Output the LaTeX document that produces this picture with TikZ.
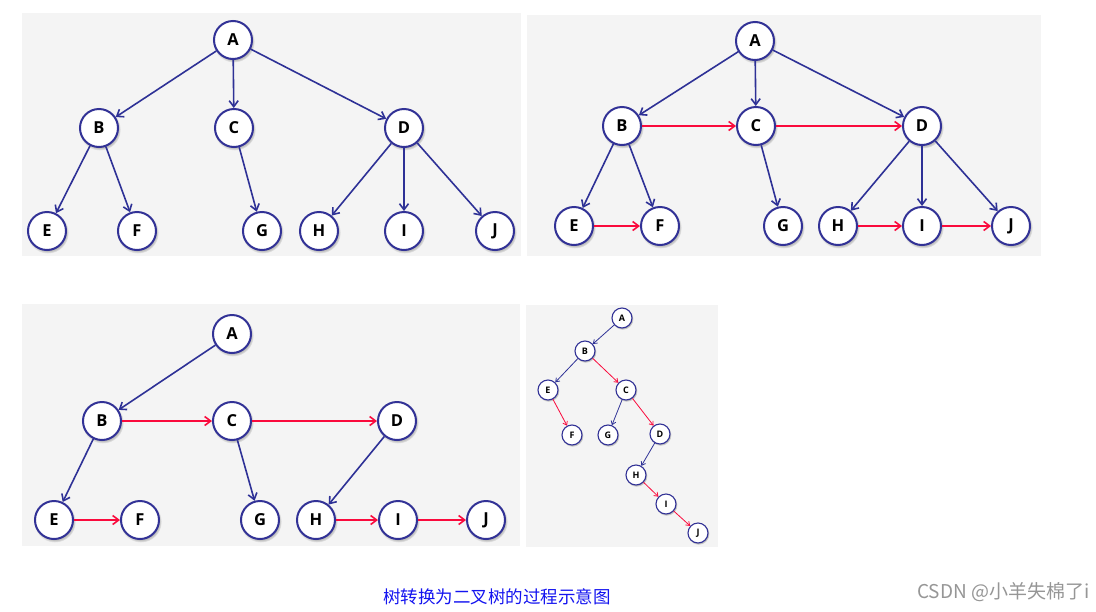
\documentclass[tikz,border=0pt]{standalone}
\usepackage{fontspec}
\setmainfont{Open Sans}
\newfontfamily\cjk{Noto Sans CJK SC}
\usetikzlibrary{arrows.meta,shadows}
\definecolor{nodeblue}{RGB}{50,50,150}
\definecolor{edgeblue}{RGB}{46,49,150}
\definecolor{edgered}{RGB}{250,10,60}
\definecolor{panelbg}{RGB}{244,244,244}
\definecolor{capblue}{RGB}{20,20,240}
\definecolor{wmgray}{RGB}{150,150,150}
\tikzset{
  panel/.style={fill=panelbg, draw=none},
  bignode/.style={circle, draw=nodeblue, line width=2pt, fill=white, minimum size=38pt, inner sep=0pt,
    font=\fontsize{16.5}{18}\selectfont\bfseries,
    circular drop shadow={shadow xshift=0.8pt, shadow yshift=-1.5pt, opacity=0.25, fill=black}},
  smallnode/.style={circle, draw=nodeblue, line width=1.1pt, fill=white, minimum size=20pt, inner sep=0pt,
    font=\fontsize{9}{10}\selectfont\bfseries,
    circular drop shadow={shadow xshift=0.5pt, shadow yshift=-0.8pt, opacity=0.25, fill=black}},
  bl/.style={draw=edgeblue, line width=1.6pt, -{Straight Barb[length=6pt,width=9pt]}},
  rd/.style={draw=edgered, line width=1.6pt, -{Straight Barb[length=6pt,width=9pt]}},
  sbl/.style={draw=edgeblue, line width=0.8pt, -{Straight Barb[length=3.5pt,width=5pt]}},
  srd/.style={draw=edgered, line width=0.8pt, -{Straight Barb[length=3.5pt,width=5pt]}},
}
\begin{document}
\begin{tikzpicture}[x=1pt,y=-1pt]
\useasboundingbox (0,0) rectangle (1096,611);
\fill[white] (0,0) rectangle (1096,611);
% panels
\fill[panel] (22,13) rectangle (521,256);
\fill[panel] (527,15) rectangle (1041,256);
\fill[panel] (22,304) rectangle (520,546);
\fill[panel] (526,305) rectangle (718,547);

% Panel 1
\node[bignode] (a1) at (233,40) {A};
\node[bignode] (b1) at (99,128) {B};
\node[bignode] (c1) at (234,128) {C};
\node[bignode] (d1) at (404,128) {D};
\node[bignode] (e1) at (47,231) {E};
\node[bignode] (f1) at (137,231) {F};
\node[bignode] (g1) at (262,231) {G};
\node[bignode] (h1) at (319,231) {H};
\node[bignode] (i1) at (404,231) {I};
\node[bignode] (j1) at (495,231) {J};
\draw[bl] (a1) -- (b1);
\draw[bl] (a1) -- (c1);
\draw[bl] (a1) -- (d1);
\draw[bl] (b1) -- (e1);
\draw[bl] (b1) -- (f1);
\draw[bl] (c1) -- (g1);
\draw[bl] (d1) -- (h1);
\draw[bl] (d1) -- (i1);
\draw[bl] (d1) -- (j1);

% Panel 2
\node[bignode] (a2) at (755,41) {A};
\node[bignode] (b2) at (622,126) {B};
\node[bignode] (c2) at (756,126) {C};
\node[bignode] (d2) at (922,126) {D};
\node[bignode] (e2) at (574,226) {E};
\node[bignode] (f2) at (660,226) {F};
\node[bignode] (g2) at (783,226) {G};
\node[bignode] (h2) at (838,226) {H};
\node[bignode] (i2) at (922,226) {I};
\node[bignode] (j2) at (1011,226) {J};
\draw[bl] (a2) -- (b2);
\draw[bl] (a2) -- (c2);
\draw[bl] (a2) -- (d2);
\draw[rd] (b2) -- (c2);
\draw[rd] (c2) -- (d2);
\draw[bl] (b2) -- (e2);
\draw[bl] (b2) -- (f2);
\draw[bl] (c2) -- (g2);
\draw[bl] (d2) -- (h2);
\draw[bl] (d2) -- (i2);
\draw[bl] (d2) -- (j2);
\draw[rd] (e2) -- (f2);
\draw[rd] (h2) -- (i2);
\draw[rd] (i2) -- (j2);

% Panel 3
\node[bignode] (a3) at (232,334) {A};
\node[bignode] (b3) at (102,421) {B};
\node[bignode] (c3) at (232,421) {C};
\node[bignode] (d3) at (397,421) {D};
\node[bignode] (e3) at (54,520) {E};
\node[bignode] (f3) at (140,520) {F};
\node[bignode] (g3) at (260,520) {G};
\node[bignode] (h3) at (316,520) {H};
\node[bignode] (i3) at (398,520) {I};
\node[bignode] (j3) at (486,520) {J};
\draw[bl] (a3) -- (b3);
\draw[rd] (b3) -- (c3);
\draw[rd] (c3) -- (d3);
\draw[bl] (b3) -- (e3);
\draw[rd] (e3) -- (f3);
\draw[bl] (c3) -- (g3);
\draw[bl] (d3) -- (h3);
\draw[rd] (h3) -- (i3);
\draw[rd] (i3) -- (j3);

% Panel 4
\node[smallnode] (a4) at (622,318) {A};
\node[smallnode] (b4) at (585,351) {B};
\node[smallnode] (e4) at (548,390) {E};
\node[smallnode] (c4) at (626,390) {C};
\node[smallnode] (f4) at (572,435) {F};
\node[smallnode] (g4) at (608,435) {G};
\node[smallnode] (d4) at (660,434) {D};
\node[smallnode] (h4) at (636,475) {H};
\node[smallnode] (i4) at (666,504) {I};
\node[smallnode] (j4) at (698,533) {J};
\draw[sbl] (a4) -- (b4);
\draw[sbl] (b4) -- (e4);
\draw[srd] (b4) -- (c4);
\draw[srd] (e4) -- (f4);
\draw[sbl] (c4) -- (g4);
\draw[srd] (c4) -- (d4);
\draw[sbl] (d4) -- (h4);
\draw[srd] (h4) -- (i4);
\draw[srd] (i4) -- (j4);

% captions
\node[text=capblue, font=\cjk\fontsize{17.5}{19}\selectfont] (cap) at (497,597) {树转换为二叉树的过程示意图};
\node[text=wmgray, font=\cjk\fontsize{19}{21}\selectfont, anchor=east] (wm) at (1093,592) {CSDN @小羊失棉了i};
\end{tikzpicture}
\end{document}
